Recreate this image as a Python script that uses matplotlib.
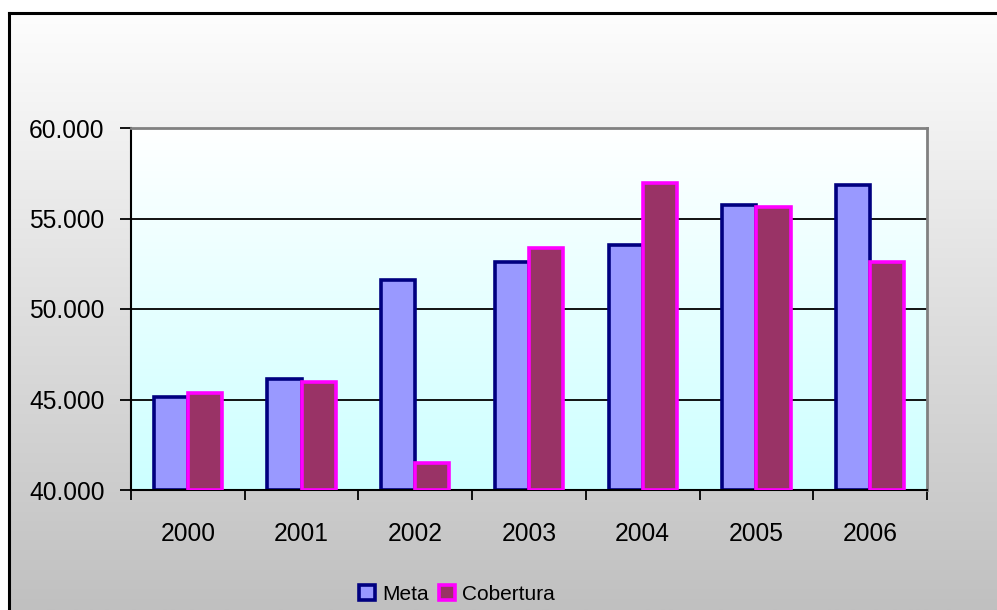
import numpy as np
import matplotlib.pyplot as plt
from matplotlib.colors import LinearSegmentedColormap
from matplotlib.patches import Rectangle
from matplotlib.ticker import FuncFormatter

plt.rcParams['font.family'] = ['Liberation Sans', 'DejaVu Sans']

# data
years = ['2000', '2001', '2002', '2003', '2004', '2005', '2006']
meta = [45140, 46130, 51600, 52600, 53540, 55750, 56850]
cobertura = [45360, 45980, 41490, 53370, 56960, 55640, 52600]
y_ticks = [40000, 45000, 50000, 55000, 60000]

W, H = 997, 610
fig = plt.figure(figsize=(W / 100, H / 100), dpi=100)
fig.patch.set_facecolor('white')

# chart area: grey gradient with black border on left/top
bg = fig.add_axes([9 / W, 0, 1 - 9 / W, (H - 13) / H], zorder=0)
grey = LinearSegmentedColormap.from_list('grey', ['#FDFDFD', '#C0C0C0'])
bg.imshow(np.linspace(0, 1, 256).reshape(-1, 1), cmap=grey, aspect='auto',
          extent=[0, 1, 0, 1], origin='upper')
bg.set_xlim(0, 1)
bg.set_ylim(0, 1)
bg.set_xticks([])
bg.set_yticks([])
for s in ['right', 'bottom']:
    bg.spines[s].set_visible(False)
for s in ['left', 'top']:
    bg.spines[s].set_color('black')
    bg.spines[s].set_linewidth(2.2)

# plot area
ax = fig.add_axes([131 / W, (H - 490) / H, 796 / W, 362 / H], zorder=1)
x = np.arange(len(years))
w = 0.3
ax.set_xlim(-0.5, len(years) - 0.5)
ax.set_ylim(y_ticks[0], y_ticks[-1])

cyan = LinearSegmentedColormap.from_list('cyan', ['#FFFFFF', '#CCFFFF'])
ax.imshow(np.linspace(0, 1, 256).reshape(-1, 1), cmap=cyan, aspect='auto',
          extent=[-0.5, len(years) - 0.5, y_ticks[0], y_ticks[-1]],
          origin='upper', zorder=0)

for yv in y_ticks[1:-1]:
    ax.axhline(yv, color='black', lw=1.3, zorder=1)

ax.bar(x - w / 2, np.array(meta) - y_ticks[0], w, bottom=y_ticks[0],
       color='#9999FF', edgecolor='#000080', linewidth=2.6, zorder=2)
ax.bar(x + w / 2, np.array(cobertura) - y_ticks[0], w, bottom=y_ticks[0],
       color='#993366', edgecolor='#FF00FF', linewidth=2.6, zorder=3)

ax.set_yticks(y_ticks)
ax.yaxis.set_major_formatter(FuncFormatter(lambda v, p: f'{v:,.0f}'.replace(',', '.')))
ax.tick_params(axis='y', direction='out', length=8, width=1.3, pad=11,
               labelsize=17.7, colors='black')

ax.set_xticks(np.arange(len(years) + 1) - 0.5)
ax.set_xticklabels([])
ax.set_xticks(x, minor=True)
ax.set_xticklabels(years, minor=True)
ax.tick_params(axis='x', which='major', direction='out', length=7, width=1.3)
ax.tick_params(axis='x', which='minor', length=0, pad=23, labelsize=17.7)

for s in ['left', 'bottom']:
    ax.spines[s].set_color('black')
    ax.spines[s].set_linewidth(1.5)
for s in ['top', 'right']:
    ax.spines[s].set_color('#808080')
    ax.spines[s].set_linewidth(2)

handles = [Rectangle((0, 0), 1, 1, facecolor='#9999FF', edgecolor='#000080', linewidth=2.6),
           Rectangle((0, 0), 1, 1, facecolor='#993366', edgecolor='#FF00FF', linewidth=2.6)]
fig.legend(handles, ['Meta', 'Cobertura'], loc='center', bbox_to_anchor=(457 / W, 1 - 594 / H),
           ncol=2, frameon=False, fontsize=15, handlelength=0.75, handleheight=0.75,
           handletextpad=0.35, columnspacing=0.5)

fig.savefig('out.png', dpi=100)
